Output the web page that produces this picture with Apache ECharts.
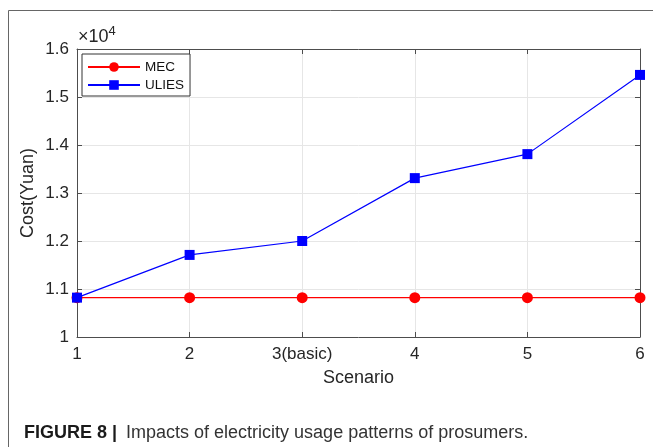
<!DOCTYPE html>
<html lang="en">
<head>
    <meta charset="utf-8">
    <title>Figure 8</title>
    <script src="https://cdn.jsdelivr.net/npm/echarts@6/dist/echarts.min.js"></script>
    <style>
        html, body { margin: 0; padding: 0; background: #fff; }
        #container { width: 653px; height: 447px; }
    </style>
</head>
<body>
<div id="container"></div>
<script>
    // scenarios on the x axis
    const scenarios = ["1", "2", "3(basic)", "4", "5", "6"];
    // cost in units of 10^4 Yuan
    const mecCost = [1.082, 1.082, 1.082, 1.082, 1.082, 1.082];
    const uliesCost = [1.082, 1.171, 1.200, 1.331, 1.381, 1.546];
    const yMin = 1, yMax = 1.6, yStep = 0.1;

    const axisColor = "#4d4d4d";
    const textColor = "#262626";
    const font = "Liberation Sans, Arial, sans-serif";

    const option = {
        animation: false,
        textStyle: { fontFamily: font },
        grid: { left: 77, right: 13, top: 49, bottom: 110 },
        legend: {
            orient: "vertical",
            left: 82,
            top: 54,
            padding: [6, 6, 4, 5],
            itemGap: 4,
            itemWidth: 52,
            itemHeight: 12,
            borderColor: "#333",
            borderWidth: 1,
            backgroundColor: "#fff",
            textStyle: { fontSize: 13.5, color: "#111", fontFamily: font },
            data: ["MEC", "ULIES"]
        },
        xAxis: [{
            type: "category",
            data: scenarios,
            boundaryGap: false,
            name: "Scenario",
            nameLocation: "middle",
            nameGap: 32,
            nameTextStyle: { fontSize: 18, color: textColor },
            axisLine: { lineStyle: { color: axisColor } },
            axisTick: { inside: true, length: 5, alignWithLabel: true, lineStyle: { color: axisColor } },
            axisLabel: { fontSize: 17, color: textColor, margin: 9 },
            splitLine: { show: true, lineStyle: { color: "#e6e6e6" } }
        }, {
            type: "category",
            data: scenarios,
            boundaryGap: false,
            position: "top",
            axisLine: { lineStyle: { color: axisColor } },
            axisTick: { inside: true, length: 5, lineStyle: { color: axisColor } },
            axisLabel: { show: false },
            splitLine: { show: false }
        }],
        yAxis: [{
            type: "value",
            min: yMin,
            max: yMax,
            interval: yStep,
            name: "Cost(Yuan)",
            nameLocation: "middle",
            nameMoveOverlap: false,
            nameGap: 40,
            nameTextStyle: { fontSize: 18, color: textColor },
            axisLine: { show: true, lineStyle: { color: axisColor } },
            axisTick: { show: true, inside: true, length: 5, lineStyle: { color: axisColor } },
            axisLabel: { fontSize: 17, color: textColor, margin: 8 },
            splitLine: { show: true, lineStyle: { color: "#e6e6e6" } }
        }, {
            type: "value",
            min: yMin,
            max: yMax,
            interval: yStep,
            position: "right",
            axisLine: { show: true, lineStyle: { color: axisColor } },
            axisTick: { show: true, inside: true, length: 5, lineStyle: { color: axisColor } },
            axisLabel: { show: false },
            splitLine: { show: false }
        }],
        series: [{
            name: "MEC",
            type: "line",
            data: mecCost,
            symbol: "circle",
            symbolSize: 11,
            color: "#ff0000",
            lineStyle: { width: 1.2, color: "#ff0000" },
            itemStyle: { color: "#ff0000" },
            z: 3
        }, {
            name: "ULIES",
            type: "line",
            data: uliesCost,
            symbol: "rect",
            symbolSize: 10,
            color: "#0000ff",
            lineStyle: { width: 1.2, color: "#0000ff" },
            itemStyle: { color: "#0000ff" },
            z: 4
        }],
        graphic: [
            // figure frame
            { type: "line", shape: { x1: 8.5, y1: 10.5, x2: 653, y2: 10.5 }, style: { stroke: "#666", lineWidth: 1 } },
            { type: "line", shape: { x1: 8.5, y1: 10.5, x2: 8.5, y2: 447 }, style: { stroke: "#666", lineWidth: 1 } },
            // exponent label
            {
                type: "text", left: 78, top: 25,
                style: {
                    text: "{a|×10}{b|4}",
                    rich: {
                        a: { fontSize: 18, fill: textColor, fontFamily: font, verticalAlign: "bottom", lineHeight: 21 },
                        b: { fontSize: 13, fill: textColor, fontFamily: font, verticalAlign: "top", lineHeight: 21, padding: [0, 0, 9, 0] }
                    }
                }
            },
            // caption
            {
                type: "text", left: 24, top: 424,
                style: {
                    text: "{b|FIGURE 8 |}{n|Impacts of electricity usage patterns of prosumers.}",
                    rich: {
                        b: { fontSize: 18, fontWeight: "bold", fill: "#1a1a1a", fontFamily: font },
                        n: { fontSize: 18, fill: "#333", fontFamily: font, padding: [0, 0, 0, 9] }
                    }
                }
            }
        ]
    };

    const chart = echarts.init(document.getElementById("container"));
    chart.setOption(option);
</script>
</body>
</html>
